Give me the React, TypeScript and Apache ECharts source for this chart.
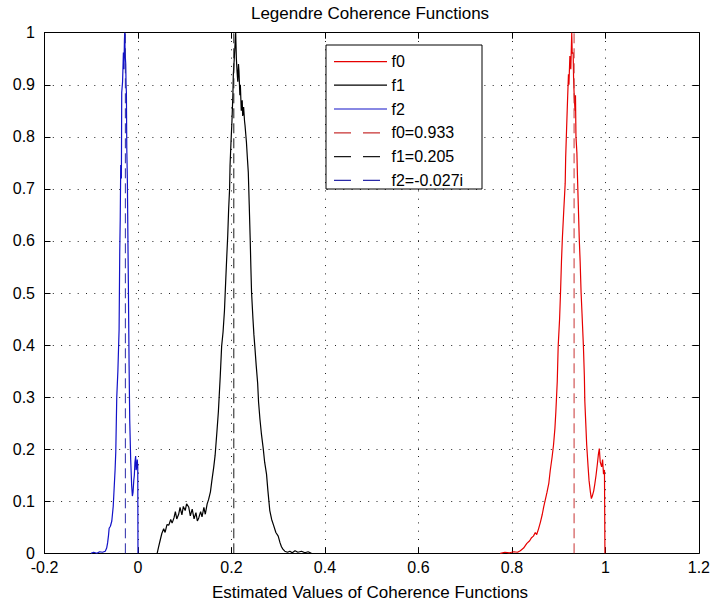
import React, { useEffect, useRef } from 'react';
import * as echarts from 'echarts';

const FONT = '"Liberation Sans", Arial, Helvetica, sans-serif';

const titleText = 'Legendre Coherence Functions';
const xAxisTitle = 'Estimated Values of Coherence Functions';

const xTickValues = [-0.2, 0, 0.2, 0.4, 0.6, 0.8, 1, 1.2];
const yTickValues = [0, 0.1, 0.2, 0.3, 0.4, 0.5, 0.6, 0.7, 0.8, 0.9, 1];

const curveNames = ['f0', 'f1', 'f2'];
const curveColors = ['#e60000', '#000000', '#1212c8'];
const dashColors = ['#c83232', '#1a1a1a', '#2a2aa8'];

const estimateNames = ['f0=0.933', 'f1=0.205', 'f2=-0.027i'];
const estimateValues = [0.933, 0.205, -0.027];

// f0 (red)
const f0Points: number[][] = [
  [0.775, 0], [0.785, 0.002], [0.795, 0.001], [0.804, 0.003], [0.812, 0.002], [0.818, 0.005],
  [0.825, 0.01], [0.832, 0.019], [0.838, 0.024], [0.842, 0.03], [0.846, 0.033], [0.85, 0.04],
  [0.853, 0.036], [0.857, 0.047], [0.861, 0.06], [0.865, 0.075], [0.868, 0.089], [0.872, 0.105],
  [0.875, 0.117], [0.879, 0.135], [0.882, 0.159], [0.886, 0.185], [0.889, 0.208], [0.892, 0.24],
  [0.894, 0.272], [0.897, 0.33], [0.899, 0.398], [0.902, 0.45], [0.904, 0.501], [0.906, 0.56],
  [0.908, 0.606], [0.911, 0.66], [0.914, 0.711], [0.915, 0.76], [0.917, 0.816], [0.919, 0.87],
  [0.921, 0.92], [0.922, 0.9], [0.924, 0.955], [0.926, 0.93], [0.928, 1.0], [0.929, 0.96],
  [0.931, 0.962], [0.932, 0.91], [0.933, 0.885], [0.935, 0.85], [0.936, 0.88], [0.937, 0.801],
  [0.939, 0.77], [0.94, 0.732], [0.942, 0.67], [0.944, 0.606], [0.946, 0.56], [0.948, 0.501],
  [0.95, 0.46], [0.953, 0.397], [0.955, 0.34], [0.956, 0.292], [0.958, 0.25], [0.96, 0.208],
  [0.963, 0.166], [0.965, 0.14], [0.968, 0.117], [0.97, 0.105], [0.972, 0.11], [0.975, 0.12],
  [0.977, 0.131], [0.98, 0.15], [0.983, 0.173], [0.985, 0.19], [0.987, 0.201], [0.989, 0.175],
  [0.992, 0.166], [0.994, 0.18], [0.996, 0.152], [0.998, 0.16], [0.999, 0],
];

// f1 (black)
const f1Points: number[][] = [
  [0.041, 0], [0.044, 0.012], [0.048, 0.027], [0.051, 0.038], [0.055, 0.047], [0.058, 0.04],
  [0.062, 0.055], [0.066, 0.054], [0.07, 0.065], [0.073, 0.058], [0.077, 0.068], [0.08, 0.08],
  [0.083, 0.066], [0.087, 0.075], [0.09, 0.088], [0.094, 0.074], [0.097, 0.09], [0.101, 0.082],
  [0.104, 0.095], [0.1085, 0.089], [0.112, 0.072], [0.116, 0.085], [0.12, 0.066], [0.124, 0.078],
  [0.127, 0.062], [0.13, 0.068], [0.134, 0.08], [0.137, 0.07], [0.141, 0.088], [0.144, 0.075],
  [0.148, 0.095], [0.151, 0.103], [0.155, 0.118], [0.158, 0.139], [0.162, 0.165], [0.165, 0.188],
  [0.169, 0.235], [0.172, 0.272], [0.176, 0.34], [0.179, 0.398], [0.182, 0.425], [0.185, 0.466],
  [0.188, 0.53], [0.19, 0.571], [0.192, 0.61], [0.194, 0.662], [0.196, 0.7], [0.197, 0.746],
  [0.199, 0.79], [0.201, 0.829], [0.203, 0.88], [0.204, 0.92], [0.206, 0.95], [0.208, 0.983],
  [0.209, 1.0], [0.2105, 0.95], [0.212, 0.925], [0.2135, 0.906], [0.215, 0.94], [0.216, 0.927],
  [0.218, 0.88], [0.219, 0.9], [0.221, 0.85], [0.223, 0.87], [0.224, 0.84], [0.226, 0.857],
  [0.228, 0.83], [0.229, 0.822], [0.232, 0.79], [0.234, 0.76], [0.236, 0.732], [0.238, 0.67],
  [0.24, 0.606], [0.2415, 0.55], [0.243, 0.501], [0.246, 0.45], [0.248, 0.42], [0.25, 0.397],
  [0.253, 0.36], [0.256, 0.327], [0.258, 0.29], [0.261, 0.257], [0.264, 0.23], [0.268, 0.201],
  [0.271, 0.175], [0.275, 0.152], [0.278, 0.12], [0.282, 0.082], [0.286, 0.065], [0.29, 0.054],
  [0.295, 0.04], [0.3, 0.033], [0.304, 0.02], [0.307, 0.0125], [0.31, 0.008], [0.314, 0.004],
  [0.32, 0.002], [0.325, 0.004], [0.33, 0.001], [0.336, 0.005], [0.342, 0.002], [0.35, 0.004],
  [0.357, 0.001], [0.364, 0.003], [0.371, 0],
];

// f2 (blue)
const f2Points: number[][] = [
  [-0.1006, 0], [-0.095, 0.002], [-0.088, 0], [-0.082, 0.003], [-0.076, 0.002], [-0.07, 0.004],
  [-0.067, 0.01], [-0.065, 0.02], [-0.063, 0.035], [-0.0617, 0.048], [-0.059, 0.052], [-0.056, 0.062],
  [-0.053, 0.09], [-0.051, 0.125], [-0.049, 0.16], [-0.0475, 0.195], [-0.0454, 0.3], [-0.043, 0.35],
  [-0.0404, 0.43], [-0.039, 0.58], [-0.038, 0.64], [-0.0369, 0.746], [-0.0355, 0.72], [-0.0348, 0.885],
  [-0.033, 0.905], [-0.0312, 0.962], [-0.03, 0.93], [-0.029, 0.985], [-0.0284, 1.0], [-0.0275, 0.96],
  [-0.0262, 0.94], [-0.0255, 0.9], [-0.0248, 0.885], [-0.024, 0.78], [-0.0227, 0.717], [-0.0215, 0.6],
  [-0.0206, 0.52], [-0.019, 0.36], [-0.0177, 0.257], [-0.0156, 0.18], [-0.0135, 0.13], [-0.012, 0.11],
  [-0.0106, 0.117], [-0.009, 0.14], [-0.0078, 0.15], [-0.0065, 0.175], [-0.005, 0.187], [-0.004, 0.16],
  [-0.0028, 0.165], [-0.0015, 0.18], [-0.0005, 0.165], [0.0, 0],
];

const curves = [f0Points, f1Points, f2Points];

export default function App() {
  const ref = useRef<HTMLDivElement>(null);

  useEffect(() => {
    if (!ref.current) return;
    const chart = echarts.init(ref.current, null, { renderer: 'svg' });

    const xMin = xTickValues[0];
    const xMax = xTickValues[xTickValues.length - 1];
    const xInterval = xTickValues[1] - xTickValues[0];
    const yMin = yTickValues[0];
    const yMax = yTickValues[yTickValues.length - 1];
    const yInterval = yTickValues[1] - yTickValues[0];

    const gridLine = { show: true, lineStyle: { color: '#222', width: 1, type: [1, 7.3] } };
    const axisLine = { show: true, onZero: false, lineStyle: { color: '#000', width: 1 } };
    const tick = { show: true, inside: true, length: 6, lineStyle: { color: '#000', width: 1 } };

    const curveSeries = curveNames.map((name, i) => ({
      name,
      type: 'line',
      data: curves[i],
      symbol: 'none',
      showSymbol: false,
      lineStyle: { color: curveColors[i], width: 1.2 },
      itemStyle: { color: curveColors[i] },
      z: 2,
    }));

    const estimateSeries = estimateNames.map((name, i) => ({
      name,
      type: 'line',
      data: [[estimateValues[i], yMin], [estimateValues[i], yMax]],
      symbol: 'none',
      showSymbol: false,
      lineStyle: { color: dashColors[i], width: 1, type: [10, 5] },
      itemStyle: { color: dashColors[i] },
      z: 3,
    }));

    // Legend drawn as graphic elements (plain line icons, as in the original)
    const legendNames = [...curveNames, ...estimateNames];
    const legendColors = [...curveColors, ...dashColors];
    const legendRowY = [61.7, 85.2, 109.0, 132.8, 156.6, 180.4];
    const legendItems: any[] = [];
    legendNames.forEach((name, i) => {
      const dashed = i >= curveNames.length;
      legendItems.push({
        type: 'line',
        z: 9,
        shape: { x1: 334, y1: legendRowY[i], x2: 387, y2: legendRowY[i] },
        style: {
          stroke: legendColors[i],
          lineWidth: 1.2,
          lineDash: dashed ? [17, 12] : null,
        },
      });
      legendItems.push({
        type: 'text',
        z: 9,
        x: 391.5,
        y: legendRowY[i],
        style: {
          text: name, fill: '#000', fontSize: 16, fontFamily: FONT,
          align: 'left', verticalAlign: 'middle',
          textAlign: 'left', textVerticalAlign: 'middle',
        },
      });
    });

    const option: any = {
      animation: false,
      backgroundColor: '#fff',
      textStyle: { fontFamily: FONT },
      grid: { left: 44.5, right: 10.3, top: 32.7, bottom: 54.7, containLabel: false },
      xAxis: [
        {
          type: 'value', min: xMin, max: xMax, interval: xInterval, position: 'bottom',
          axisLine, axisTick: tick, splitLine: gridLine,
          axisLabel: { show: true, margin: 6, color: '#000', fontSize: 16, fontFamily: FONT },
        },
        {
          type: 'value', min: xMin, max: xMax, interval: xInterval, position: 'top',
          axisLine, axisTick: tick, splitLine: { show: false }, axisLabel: { show: false },
        },
      ],
      yAxis: [
        {
          type: 'value', min: yMin, max: yMax, interval: yInterval, position: 'left',
          axisLine, axisTick: tick, splitLine: gridLine,
          axisLabel: { show: true, margin: 9.5, color: '#000', fontSize: 16, fontFamily: FONT },
        },
        {
          type: 'value', min: yMin, max: yMax, interval: yInterval, position: 'right',
          axisLine, axisTick: tick, splitLine: { show: false }, axisLabel: { show: false },
        },
      ],
      legend: { show: false },
      graphic: [
        {
          type: 'rect',
          z: 8,
          shape: { x: 326, y: 45, width: 156, height: 144 },
          style: { fill: '#fff', stroke: '#000', lineWidth: 1 },
        },
        ...legendItems,
        {
          type: 'text',
          x: 370,
          y: 13.1,
          z: 8,
          style: {
            text: titleText, fill: '#000', fontSize: 17, fontFamily: FONT,
            align: 'center', verticalAlign: 'middle',
            textAlign: 'center', textVerticalAlign: 'middle',
          },
        },
        {
          type: 'text',
          x: 370,
          y: 592.4,
          z: 8,
          style: {
            text: xAxisTitle, fill: '#000', fontSize: 17, fontFamily: FONT,
            align: 'center', verticalAlign: 'middle',
            textAlign: 'center', textVerticalAlign: 'middle',
          },
        },
      ],
      series: [...curveSeries, ...estimateSeries],
    };

    chart.setOption(option);
    return () => chart.dispose();
  }, []);

  return (
    <div
      ref={ref}
      style={{ position: 'absolute', left: 0, top: 0, width: 713, height: 608, background: '#fff' }}
    />
  );
}
